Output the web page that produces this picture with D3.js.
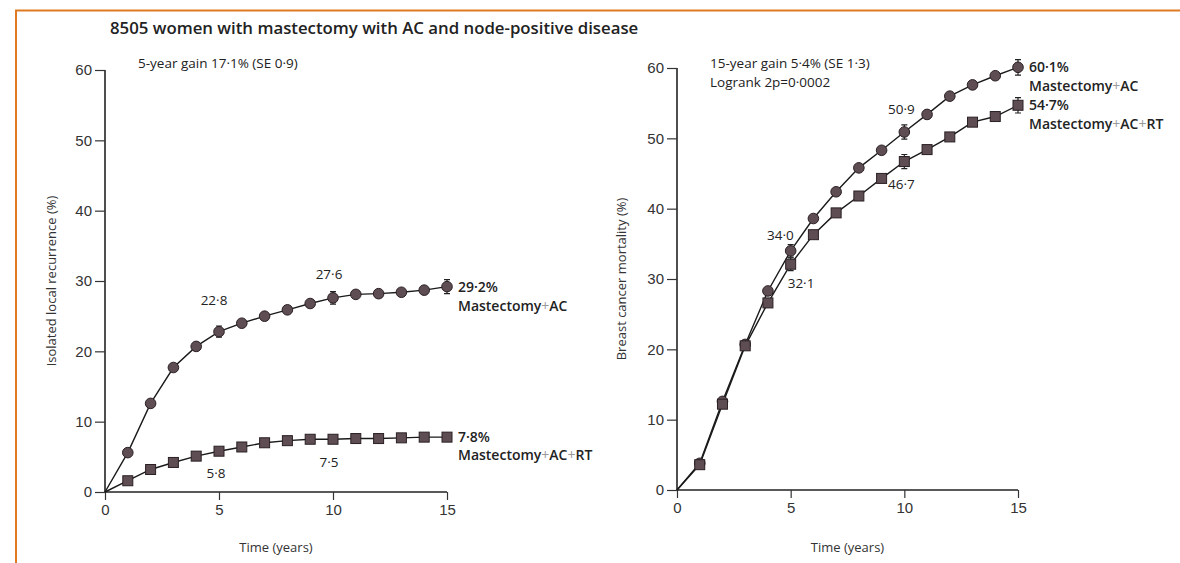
<!DOCTYPE html>
<html>
<head>
<meta charset="utf-8">
<script src="https://cdn.jsdelivr.net/npm/d3@7"></script>
<style>
  html, body { margin: 0; padding: 0; background: #fff; }
  svg { display: block; font-family: "Open Sans", "Noto Sans", sans-serif; }
  .tick text { font-size: 15px; fill: #333; }
  .annot { font-size: 13.5px; fill: #222; }
  .endlab { font-size: 14px; font-weight: 600; fill: #222; }
</style>
</head>
<body>
<svg id="chart" width="1180" height="563"></svg>
<script>
// Years of follow-up
const years = [0, 1, 2, 3, 4, 5, 6, 7, 8, 9, 10, 11, 12, 13, 14, 15];

// Isolated local recurrence (%)
const recurAC   = [0, 5.6, 12.6, 17.7, 20.7, 22.8, 24.0, 25.0, 25.9, 26.8, 27.6, 28.1, 28.2, 28.4, 28.7, 29.2];
const recurACRT = [0, 1.6, 3.2, 4.2, 5.1, 5.8, 6.4, 7.0, 7.3, 7.5, 7.5, 7.6, 7.6, 7.7, 7.8, 7.8];

// Breast cancer mortality (%)
const mortAC   = [0, 3.8, 12.6, 20.7, 28.3, 34.0, 38.6, 42.4, 45.8, 48.3, 50.9, 53.4, 56.0, 57.6, 58.9, 60.1];
const mortACRT = [0, 3.6, 12.2, 20.5, 26.6, 32.1, 36.3, 39.4, 41.8, 44.3, 46.7, 48.4, 50.2, 52.3, 53.1, 54.7];

// Error bars (half-width, %) at selected years
const errYears    = [5, 10, 15];
const recurACErr  = [0.8, 0.9, 1.0];
const recurRTErr  = [0.4, 0.4, 0.5];
const mortACErr   = [0.9, 1.0, 1.1];
const mortRTErr   = [0.9, 1.0, 1.1];

const xTicks = [0, 5, 10, 15];
const yTicks = [0, 10, 20, 30, 40, 50, 60];

const title = "8505 women with mastectomy with AC and node-positive disease";
const fmt = v => d3.format(".1f")(v).replace(".", "\u00B7");

const svg = d3.select("#chart");

// Orange page frame
svg.append("path")
  .attr("d", "M16,563 V10.5 H1180")
  .attr("fill", "none").attr("stroke", "#e07a22").attr("stroke-width", 2);

svg.append("text")
  .attr("x", 110).attr("y", 34)
  .attr("font-size", 16.8).attr("font-weight", 600).attr("fill", "#222")
  .text(title);

const markFill = "#5e4d52";

function panel(cfg) {
  const x = d3.scaleLinear().domain([0, 15]).range([cfg.x0, cfg.x1]);
  const y = d3.scaleLinear().domain([0, 60]).range([cfg.y0, cfg.y1]);
  const g = svg.append("g");

  const yAxis = g.append("g").attr("transform", `translate(${cfg.x0},0)`)
    .call(d3.axisLeft(y).tickValues(yTicks).tickSize(10).tickPadding(3));
  const xAxis = g.append("g").attr("transform", `translate(0,${cfg.y0})`)
    .call(d3.axisBottom(x).tickValues(xTicks).tickSize(8).tickPadding(4));
  [yAxis, xAxis].forEach(a => {
    a.select(".domain").attr("stroke", "#222").attr("stroke-width", 1.6);
    a.selectAll(".tick line").attr("stroke", "#333").attr("stroke-width", 1.2);
  });
  // axis lines without end caps
  yAxis.select(".domain").attr("d", `M0,${y(60)}V${y(0)}`);
  xAxis.select(".domain").attr("d", `M${x(0)},0H${x(15)}`);

  g.append("text")
    .attr("transform", `translate(${cfg.ylabX},${y(30)}) rotate(-90)`)
    .attr("text-anchor", "middle").attr("font-size", 13).attr("fill", "#333")
    .text(cfg.ylab);
  g.append("text")
    .attr("x", x(7.5)).attr("y", 552)
    .attr("text-anchor", "middle").attr("font-size", 13).attr("fill", "#333")
    .text("Time (years)");

  const line = d3.line().x((d, i) => x(years[i])).y(d => y(d));

  cfg.series.forEach(s => {
    g.append("path").datum(s.values)
      .attr("d", line).attr("fill", "none")
      .attr("stroke", "#1a1a1a").attr("stroke-width", 1.4);
  });

  // error bars
  cfg.series.forEach(s => {
    errYears.forEach((yr, k) => {
      const v = s.values[years.indexOf(yr)], e = s.err[k];
      const cx = x(yr);
      g.append("path")
        .attr("d", `M${cx},${y(v + e)}V${y(v - e)}M${cx - 3},${y(v + e)}H${cx + 3}M${cx - 3},${y(v - e)}H${cx + 3}`)
        .attr("stroke", "#222").attr("stroke-width", 1.2).attr("fill", "none");
    });
  });

  cfg.series.forEach(s => {
    const pts = s.values.slice(1).map((v, i) => ({ t: years[i + 1], v }));
    if (s.shape === "circle") {
      g.selectAll(null).data(pts).enter().append("circle")
        .attr("cx", d => x(d.t)).attr("cy", d => y(d.v)).attr("r", 5.3)
        .attr("fill", markFill).attr("stroke", "#2a2024").attr("stroke-width", 1);
    } else {
      g.selectAll(null).data(pts).enter().append("rect")
        .attr("x", d => x(d.t) - 5).attr("y", d => y(d.v) - 5)
        .attr("width", 10).attr("height", 10)
        .attr("fill", markFill).attr("stroke", "#2a2024").attr("stroke-width", 1);
    }
  });

  // value call-outs
  cfg.callouts.forEach(c => {
    const s = cfg.series[c.s];
    const v = s.values[years.indexOf(c.t)];
    g.append("text").attr("class", "annot")
      .attr("x", x(c.t) + c.dx).attr("y", y(v) + c.dy)
      .attr("text-anchor", c.anchor || "middle")
      .text(fmt(v));
  });

  // end-of-line labels
  cfg.series.forEach(s => {
    const v = s.values[s.values.length - 1];
    g.append("text").attr("class", "endlab")
      .attr("x", x(15) + 11).attr("y", y(v) + 5)
      .text(fmt(v) + "%");
    const n = g.append("text").attr("class", "endlab")
      .attr("x", x(15) + 11).attr("y", y(v) + s.nameDy);
    s.name.forEach((part, i) => {
      if (i > 0) n.append("tspan").attr("font-weight", 400).attr("fill", "#999").text("+");
      n.append("tspan").text(part);
    });
  });

  cfg.notes.forEach((txt, i) => {
    g.append("text").attr("class", "annot")
      .attr("x", cfg.noteX).attr("y", cfg.noteY + i * 19).text(txt);
  });
}

panel({
  x0: 105, x1: 447, y0: 492, y1: 70, ylabX: 56,
  ylab: "Isolated local recurrence (%)",
  series: [
    { values: recurAC, err: recurACErr, shape: "circle", name: ["Mastectomy", "AC"], nameDy: 24 },
    { values: recurACRT, err: recurRTErr, shape: "square", name: ["Mastectomy", "AC", "RT"], nameDy: 23 }
  ],
  callouts: [
    { s: 0, t: 5, dx: -5, dy: -27 },
    { s: 0, t: 10, dx: -4, dy: -19 },
    { s: 1, t: 5, dx: -3, dy: 27 },
    { s: 1, t: 10, dx: -4, dy: 28 }
  ],
  notes: ["5-year gain 17\u00B71% (SE 0\u00B79)"],
  noteX: 138, noteY: 68
});

panel({
  x0: 677, x1: 1018, y0: 490, y1: 68, ylabX: 626,
  ylab: "Breast cancer mortality (%)",
  series: [
    { values: mortAC, err: mortACErr, shape: "circle", name: ["Mastectomy", "AC"], nameDy: 24 },
    { values: mortACRT, err: mortRTErr, shape: "square", name: ["Mastectomy", "AC", "RT"], nameDy: 24 }
  ],
  callouts: [
    { s: 0, t: 5, dx: 3, dy: -11, anchor: "end" },
    { s: 1, t: 5, dx: -3, dy: 24, anchor: "start" },
    { s: 0, t: 10, dx: -3, dy: -18 },
    { s: 1, t: 10, dx: -3, dy: 27 }
  ],
  notes: ["15-year gain 5\u00B74% (SE 1\u00B73)", "Logrank 2p=0\u00B70002"],
  noteX: 710, noteY: 68
});
</script>
</body>
</html>
